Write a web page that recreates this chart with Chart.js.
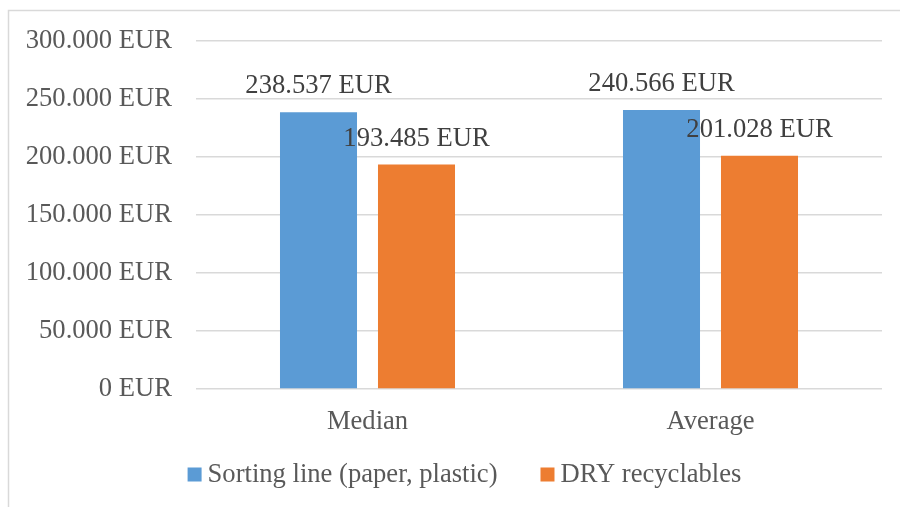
<!DOCTYPE html>
<html>
<head>
<meta charset="utf-8">
<script src="https://cdn.jsdelivr.net/npm/chart.js@4/dist/chart.umd.min.js"></script>
<style>
  html, body { margin: 0; padding: 0; background: #ffffff; }
  #wrap { width: 900px; height: 507px; position: relative; }
</style>
</head>
<body>
<div id="wrap"><canvas id="c" width="900" height="507"></canvas></div>
<script>
const categories = ["Median", "Average"];
const seriesNames = ["Sorting line (paper, plastic)", "DRY recyclables"];
const sortingLine = [238537, 240566];
const dryRecyclables = [193485, 201028];
const yTickValues = [0, 50000, 100000, 150000, 200000, 250000, 300000];

const FONT = "'Liberation Serif', 'Times New Roman', serif";
const FS = 26.6;
const TEXT = "#595959";

function fmtEUR(v) {
  const s = Math.round(v).toString().replace(/\B(?=(\d{3})+(?!\d))/g, ".");
  return s + " EUR";
}

const frame = {
  id: "frame",
  beforeDraw(chart) {
    const ctx = chart.ctx;
    ctx.save();
    ctx.fillStyle = "#ffffff";
    ctx.fillRect(0, 0, chart.width, chart.height);
    ctx.strokeStyle = "#d9d9d9";
    ctx.lineWidth = 1.5;
    ctx.strokeRect(8.5, 10.5, 1200, 1200);
    ctx.restore();
  }
};

const valueLabels = {
  id: "valueLabels",
  afterDatasetsDraw(chart) {
    const ctx = chart.ctx;
    ctx.save();
    ctx.font = FS + "px " + FONT;
    ctx.fillStyle = "#404040";
    ctx.textAlign = "center";
    ctx.textBaseline = "alphabetic";
    chart.data.datasets.forEach((ds, i) => {
      const meta = chart.getDatasetMeta(i);
      meta.data.forEach((bar, j) => {
        ctx.fillText(fmtEUR(ds.data[j]), bar.x, bar.y - 19);
      });
    });
    ctx.restore();
  }
};

const bottomLegend = {
  id: "bottomLegend",
  afterDraw(chart) {
    const ctx = chart.ctx;
    ctx.save();
    ctx.font = FS + "px " + FONT;
    ctx.textBaseline = "middle";
    ctx.textAlign = "left";
    const box = 14, gapText = 6, gapItem = 43;
    const items = chart.data.datasets.map(d => ({ label: d.label, color: d.backgroundColor }));
    let total = 0;
    items.forEach((it, i) => {
      it.w = ctx.measureText(it.label).width;
      total += box + gapText + it.w + (i < items.length - 1 ? gapItem : 0);
    });
    let x = 464.5 - total / 2;
    const cy = 474.5;
    items.forEach(it => {
      ctx.fillStyle = it.color;
      ctx.fillRect(x, cy - box / 2, box, box);
      x += box + gapText;
      ctx.fillStyle = TEXT;
      ctx.fillText(it.label, x, cy + 1);
      x += it.w + gapItem;
    });
    ctx.restore();
  }
};

new Chart(document.getElementById("c"), {
  type: "bar",
  data: {
    labels: categories,
    datasets: [
      { label: seriesNames[0], data: sortingLine, backgroundColor: "#5B9BD5",
        categoryPercentage: 0.5714, barPercentage: 0.786 },
      { label: seriesNames[1], data: dryRecyclables, backgroundColor: "#ED7D31",
        categoryPercentage: 0.5714, barPercentage: 0.786 }
    ]
  },
  options: {
    responsive: false,
    animation: false,
    devicePixelRatio: 1,
    layout: { padding: { top: 41, right: 18, left: 0, bottom: 0 } },
    plugins: {
      legend: { display: false },
      tooltip: { enabled: false }
    },
    scales: {
      x: {
        grid: { display: false, drawTicks: false },
        border: { display: false },
        ticks: { color: TEXT, font: { family: FONT, size: FS }, padding: 17 },
        afterFit(scale) { scale.height = 118; }
      },
      y: {
        min: 0, max: 300000,
        afterBuildTicks(scale) { scale.ticks = yTickValues.map(v => ({ value: v })); },
        grid: { color: "#d9d9d9", lineWidth: 1.5, drawTicks: false },
        border: { display: false },
        ticks: {
          color: TEXT, font: { family: FONT, size: FS }, padding: 24,
          callback: v => fmtEUR(v)
        },
        afterFit(scale) { scale.width = 196; }
      }
    }
  },
  plugins: [frame, valueLabels, bottomLegend]
});
</script>
</body>
</html>
